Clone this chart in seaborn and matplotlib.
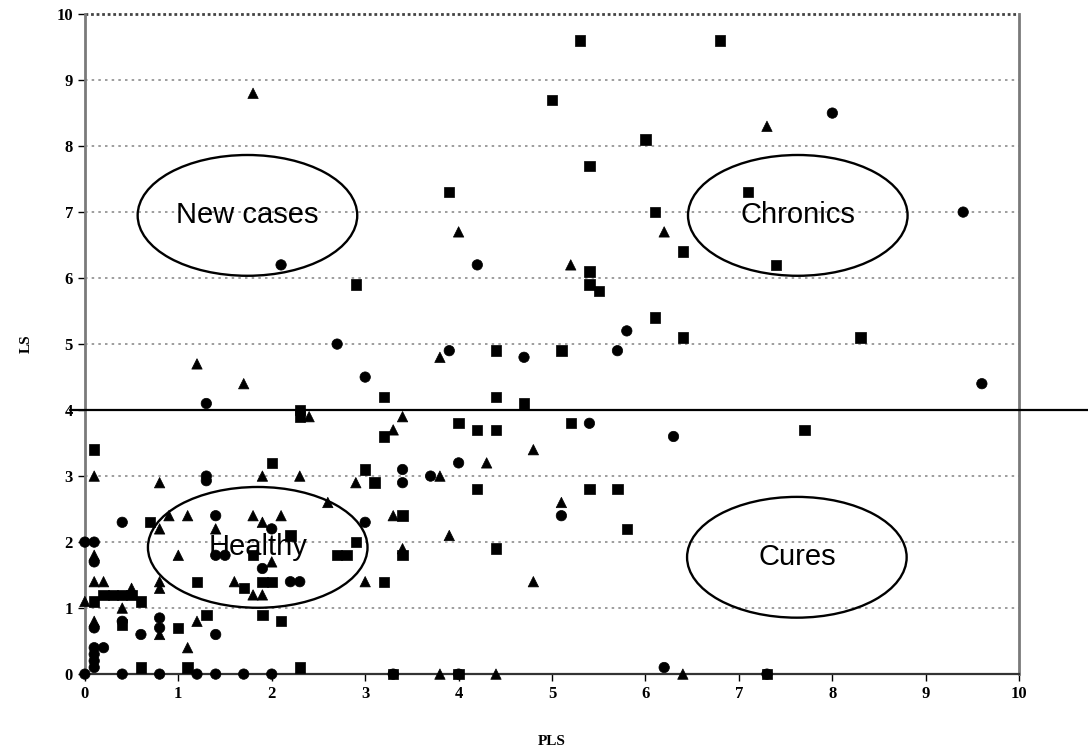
import numpy as np
import pandas as pd
import matplotlib
matplotlib.use("Agg")
import matplotlib.pyplot as plt
import seaborn as sns
from matplotlib.patches import Ellipse

# ------------------------------------------
# data (PLS, LS)
# ------------------------------------------
square_x = [5.3, 6.8, 5.0, 6.0, 5.4, 3.9, 7.1, 6.1, 6.4, 7.4, 5.4, 5.4, 5.5, 2.9, 6.1,
            6.4, 8.3, 4.4, 5.1, 3.2, 4.4, 4.7, 2.3, 2.3, 4.0, 5.2, 7.7, 4.2, 4.4, 3.2,
            0.1, 2.0, 3.0, 3.1, 4.2, 5.4, 5.7, 3.4, 0.7, 5.8, 2.2, 2.9, 4.4, 2.7, 2.8,
            3.4, 1.2, 1.9, 2.0, 3.2, 1.7, 0.2, 0.3, 0.4, 0.5, 0.1, 0.6, 1.3, 1.9, 2.1,
            1.0, 0.4, 0.6, 1.1, 2.3, 3.3, 7.3, 4.0, 1.8]
square_y = [9.6, 9.6, 8.7, 8.1, 7.7, 7.3, 7.3, 7.0, 6.4, 6.2, 6.1, 5.9, 5.8, 5.9, 5.4,
            5.1, 5.1, 4.9, 4.9, 4.2, 4.2, 4.1, 4.0, 3.9, 3.8, 3.8, 3.7, 3.7, 3.7, 3.6,
            3.4, 3.2, 3.1, 2.9, 2.8, 2.8, 2.8, 2.4, 2.3, 2.2, 2.1, 2.0, 1.9, 1.8, 1.8,
            1.8, 1.4, 1.4, 1.4, 1.4, 1.3, 1.2, 1.2, 1.2, 1.2, 1.1, 1.1, 0.9, 0.9, 0.8,
            0.7, 0.75, 0.1, 0.1, 0.1, 0.0, 0.0, 0.0, 1.8]

circle_x = [8.0, 9.4, 2.1, 4.2, 5.8, 2.7, 3.9, 4.7, 5.7, 3.0, 9.6, 1.3, 6.3, 5.4, 4.0,
            3.4, 3.4, 3.7, 1.3, 1.3, 0.4, 1.4, 2.0, 3.0, 5.1, 0.0, 0.1, 0.1, 1.4, 1.5,
            1.9, 2.2, 2.3, 0.1, 0.4, 0.8, 0.8, 0.6, 1.4, 0.1, 0.2, 0.1, 0.1, 0.1, 6.2,
            0.0, 0.4, 0.8, 1.2, 1.4, 1.7, 2.0, 3.3, 4.0, 7.3]
circle_y = [8.5, 7.0, 6.2, 6.2, 5.2, 5.0, 4.9, 4.8, 4.9, 4.5, 4.4, 4.1, 3.6, 3.8, 3.2,
            3.1, 2.9, 3.0, 3.0, 2.93, 2.3, 2.4, 2.2, 2.3, 2.4, 2.0, 2.0, 1.7, 1.8, 1.8,
            1.6, 1.4, 1.4, 0.7, 0.8, 0.85, 0.7, 0.6, 0.6, 0.4, 0.4, 0.3, 0.2, 0.1, 0.1,
            0.0, 0.0, 0.0, 0.0, 0.0, 0.0, 0.0, 0.0, 0.0, 0.0]

triangle_x = [1.8, 7.3, 4.0, 6.2, 5.2, 1.2, 1.7, 3.8, 2.4, 3.4, 3.3, 4.8, 4.3, 0.1, 0.8,
              1.9, 2.3, 2.9, 3.8, 2.6, 5.1, 0.9, 1.1, 1.8, 2.1, 1.9, 0.8, 1.4, 3.3, 3.9,
              1.0, 0.1, 2.0, 3.4, 0.1, 0.2, 0.8, 0.8, 0.5, 1.6, 1.8, 1.9, 0.0, 0.4, 3.0,
              4.8, 1.2, 0.8, 0.1, 1.1, 3.8, 4.4, 6.4]
triangle_y = [8.8, 8.3, 6.7, 6.7, 6.2, 4.7, 4.4, 4.8, 3.9, 3.9, 3.7, 3.4, 3.2, 3.0, 2.9,
              3.0, 3.0, 2.9, 3.0, 2.6, 2.6, 2.4, 2.4, 2.4, 2.4, 2.3, 2.2, 2.2, 2.4, 2.1,
              1.8, 1.8, 1.7, 1.9, 1.4, 1.4, 1.4, 1.3, 1.3, 1.4, 1.2, 1.2, 1.1, 1.0, 1.4,
              1.4, 0.8, 0.6, 0.8, 0.4, 0.0, 0.0, 0.0]

# quadrant ellipses: label, centre x, centre y
zone_labels = ["New cases", "Chronics", "Healthy", "Cures"]
zone_x = [1.74, 7.63, 1.85, 7.62]
zone_y = [6.95, 6.95, 1.92, 1.77]

threshold_ls = 4

# ------------------------------------------
# build one table for seaborn
# ------------------------------------------
df = pd.concat([
    pd.DataFrame({"PLS": square_x, "LS": square_y, "group": "square"}),
    pd.DataFrame({"PLS": circle_x, "LS": circle_y, "group": "circle"}),
    pd.DataFrame({"PLS": triangle_x, "LS": triangle_y, "group": "triangle"}),
], ignore_index=True)

sns.set_style("white")
plt.rcParams["font.family"] = ["Liberation Serif", "DejaVu Serif"]
plt.rcParams["text.color"] = "black"
plt.rcParams["axes.labelcolor"] = "black"

fig = plt.figure(figsize=(10.88, 7.49), dpi=100)
ax = fig.add_axes([0.078, 0.1, 0.8588, 0.8812])

# dotted horizontal grid (top one drawn darker like the plot-area edge)
for yv in range(1, 11):
    col = "#8c8c8c" if yv < 10 else "#444444"
    ax.axhline(yv, color=col, lw=1.2 if yv < 10 else 2, ls=(0, (1.5, 2.5)) if yv < 10 else (0, (1, 1)),
               zorder=0, clip_on=False)

sns.scatterplot(data=df, x="PLS", y="LS", style="group",
                markers={"square": "s", "circle": "o", "triangle": "^"},
                color="black", edgecolor="black", s=56, linewidth=0.5,
                legend=False, ax=ax, zorder=3, clip_on=False)

# threshold line running past the plot area
ax.plot([-0.16, 10.8], [threshold_ls, threshold_ls], color="black", lw=1.6,
        clip_on=False, zorder=4)

for lab, cx, cy in zip(zone_labels, zone_x, zone_y):
    ax.add_patch(Ellipse((cx, cy), 2.35, 1.83, fill=False, edgecolor="black",
                         lw=1.7, zorder=2))
    ax.text(cx, cy, lab, ha="center", va="center", fontsize=21, color="black",
            family=["Liberation Sans", "DejaVu Sans"], zorder=5)

ax.set_xlim(0, 10)
ax.set_ylim(0, 10)
ax.set_xticks(range(0, 11))
ax.set_yticks(range(0, 11))
ax.tick_params(axis="both", direction="out", length=5, width=1, labelsize=12,
               colors="black", labelcolor="black", bottom=True, left=True)
for lbl in ax.get_xticklabels() + ax.get_yticklabels():
    lbl.set_fontweight("bold")

ax.set_xlabel("PLS", fontsize=11, fontweight="bold", labelpad=24)
ax.set_ylabel("LS", fontsize=11, fontweight="bold", labelpad=17)

ax.spines["top"].set_visible(False)
ax.spines["left"].set_color("#7a7a7a")
ax.spines["left"].set_linewidth(2)
ax.spines["right"].set_color("#7a7a7a")
ax.spines["right"].set_linewidth(2)
ax.spines["bottom"].set_color("#333333")
ax.spines["bottom"].set_linewidth(1.6)

fig.savefig("out.png", dpi=100)
